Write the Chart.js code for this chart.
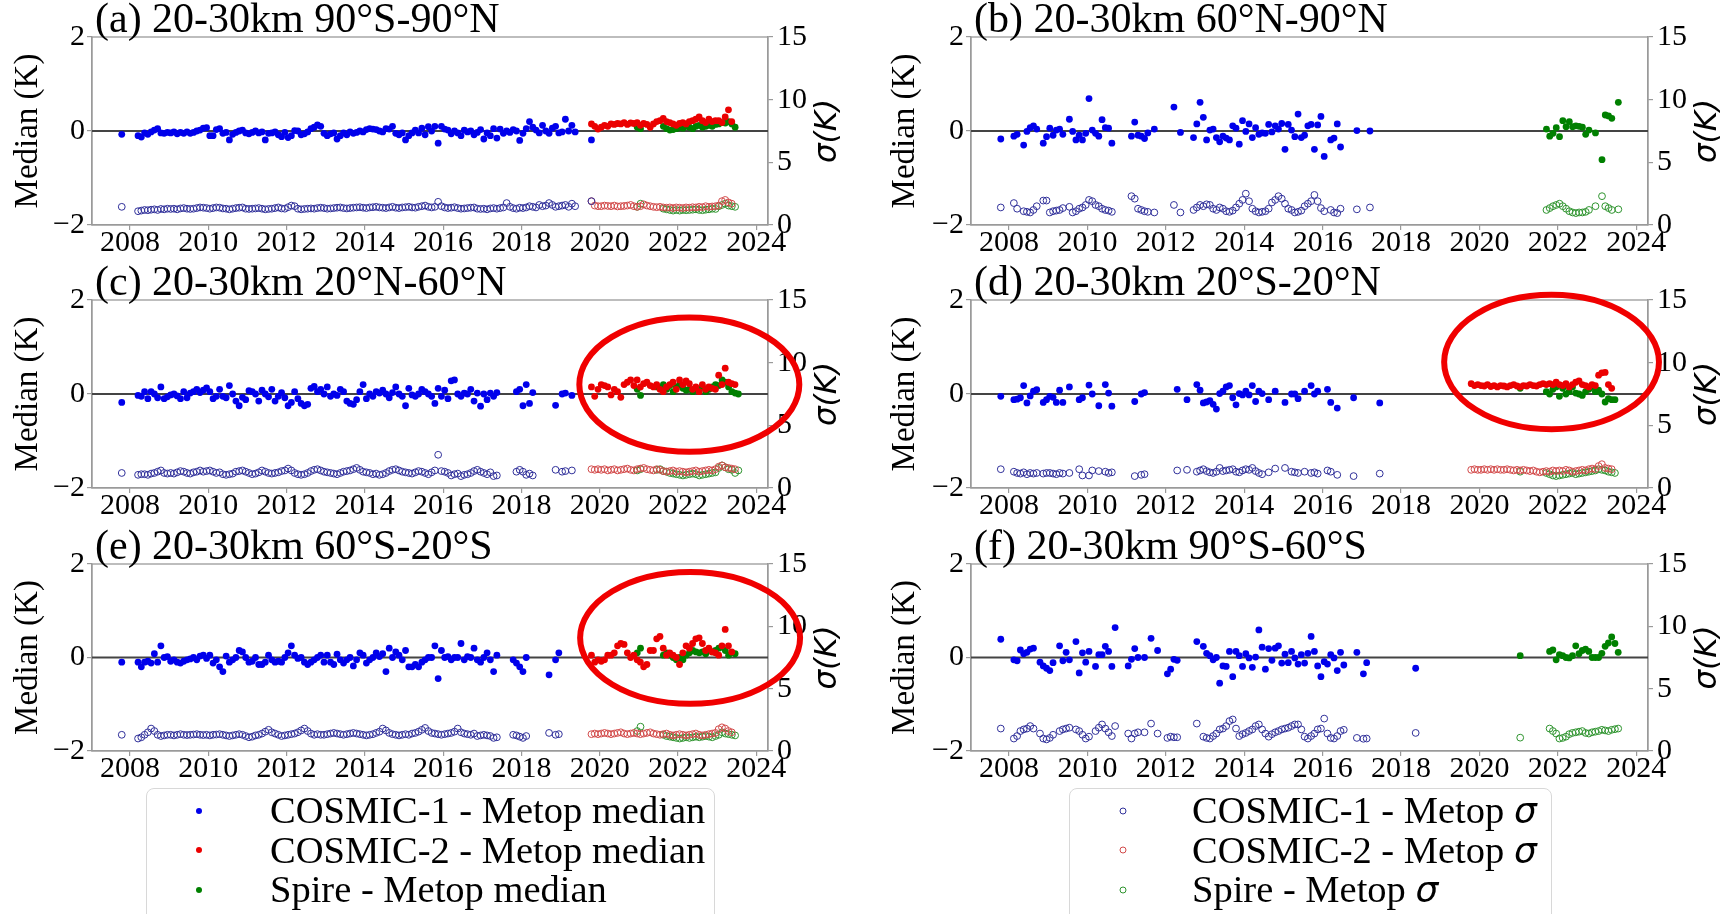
<!DOCTYPE html>
<html>
<head>
<meta charset="utf-8">
<script src="https://cdn.jsdelivr.net/npm/chart.js@4.4.0/dist/chart.umd.min.js"></script>
<style>
body { margin: 0; background: #fff; width: 1730px; height: 914px; overflow: hidden; position: relative; font-family: 'Liberation Serif', serif; }
canvas { position: absolute; }
.legend { position: absolute; top: 788px; height: 200px; box-sizing: border-box; border: 1.5px solid #d8d8d8; border-radius: 8px; padding-top: 2px; background: #fff; }
.row { position: relative; height: 39.5px; line-height: 39.5px; font-size: 38.5px; color: #000; white-space: nowrap; }
.mark { position: absolute; top: 50%; border-radius: 50%; transform: translate(-50%, -50%); box-sizing: border-box; }
.txt { position: absolute; top: 0; }
.sig { font-family: 'DejaVu Sans', sans-serif; font-style: italic; font-size: 36px; }
</style>
</head>
<body>
<script>
// tick labels and titles
var yearTicks = [2008, 2010, 2012, 2014, 2016, 2018, 2020, 2022, 2024]
var panelTitles = ['(a) 20-30km 90°S-90°N', '(b) 20-30km 60°N-90°N', '(c) 20-30km 20°N-60°N',
    '(d) 20-30km 20°S-20°N', '(e) 20-30km 60°S-20°S', '(f) 20-30km 90°S-60°S']
var medianNames = ['COSMIC-1 - Metop median', 'COSMIC-2 - Metop median', 'Spire - Metop median']
var sigmaNames = ['COSMIC-1 - Metop ', 'COSMIC-2 - Metop ', 'Spire - Metop ']

// monthly series: first month of each mission (decimal year, mid-month)
var c1Start = 2007.79
var c2Start = 2019.79
var spireStart = [2020.96, 2021.71, 2020.96, 2021.04, 2020.96, 2021.04]

// (a) 90S-90N
var aC1Med = [-0.07, null, null,
    null, null, -0.1, -0.13, -0.04, -0.07, -0.02, 0.02, 0.05, -0.04, -0.05, -0.03,
    -0.04, -0.02, -0.06, -0.03, -0.05, -0.02, -0.05, -0.03, 0.0, 0.02, 0.06, 0.07,
    -0.1, -0.1, 0.03, 0.05, -0.05, -0.03, -0.19, -0.07, -0.03, 0.0, 0.02, -0.04,
    -0.06, -0.03, 0.0, -0.04, -0.02, -0.19, -0.05, -0.04, -0.02, -0.08, -0.12, -0.03,
    -0.14, -0.1, 0.01, 0.0, -0.08, -0.06, -0.02, 0.05, 0.08, 0.13, 0.1, -0.05,
    -0.1, -0.06, -0.04, -0.17, -0.1, -0.04, -0.08, -0.02, -0.05, -0.03, 0.0, -0.02,
    0.03, 0.05, 0.04, 0.03, 0.0, -0.02, 0.05, 0.04, 0.1, -0.05, -0.08, -0.04,
    -0.19, -0.1, -0.04, 0.02, -0.04, 0.06, -0.08, 0.09, 0.0, 0.1, -0.26, 0.1,
    0.04, 0.02, -0.06, 0.0, -0.04, -0.1, 0.02, -0.02, 0.0, -0.08, -0.03, 0.03,
    -0.17, -0.04, -0.1, 0.05, -0.15, 0.04, -0.05, 0.0, -0.03, 0.03, 0.0, -0.2,
    -0.05, 0.05, 0.2, 0.08, 0.02, -0.04, 0.12, 0.0, -0.05, 0.06, 0.1, -0.04,
    -0.02, 0.25, 0.0, 0.12, -0.02, null, null, null, null, -0.19]
var aC1Sig = [1.45, null, null,
    null, null, 1.1, 1.15, 1.2, 1.18, 1.22, 1.25, 1.2, 1.28, 1.25, 1.3,
    1.28, 1.3, 1.25, 1.32, 1.35, 1.3, 1.28, 1.3, 1.35, 1.4, 1.38, 1.35,
    1.3, 1.35, 1.4, 1.38, 1.32, 1.3, 1.25, 1.3, 1.35, 1.38, 1.4, 1.3,
    1.28, 1.3, 1.32, 1.35, 1.3, 1.25, 1.28, 1.3, 1.35, 1.4, 1.32, 1.3,
    1.42, 1.55, 1.5, 1.3, 1.25, 1.28, 1.3, 1.32, 1.3, 1.35, 1.38, 1.35,
    1.3, 1.32, 1.35, 1.38, 1.4, 1.35, 1.32, 1.35, 1.38, 1.4, 1.42, 1.38,
    1.35, 1.4, 1.42, 1.45, 1.4, 1.38, 1.35, 1.4, 1.45, 1.38, 1.35, 1.4,
    1.42, 1.45, 1.4, 1.38, 1.45, 1.5, 1.55, 1.45, 1.4, 1.45, 1.85, 1.5,
    1.4, 1.35, 1.38, 1.42, 1.35, 1.3, 1.32, 1.35, 1.38, 1.4, 1.3, 1.28,
    1.3, 1.25, 1.32, 1.35, 1.3, 1.35, 1.4, 1.75, 1.45, 1.35, 1.3, 1.38,
    1.35, 1.4, 1.5, 1.45, 1.4, 1.6, 1.5, 1.55, 1.75, 1.6, 1.45, 1.5,
    1.55, 1.6, 1.45, 1.7, 1.5, null, null, null, null, 1.9]
var aC2Med = [0.15, 0.1, 0.04,
    0.08, 0.12, 0.1, 0.15, 0.14, 0.16, 0.15, 0.18, 0.14, 0.17, 0.16, 0.18,
    0.12, 0.16, 0.14, 0.08, 0.15, 0.2, 0.22, 0.27, 0.2, 0.18, 0.15, 0.12,
    0.16, 0.18, 0.15, 0.2, 0.22, 0.25, 0.3, 0.22, 0.18, 0.25, 0.2, 0.22,
    0.22, 0.18, 0.3, 0.45, 0.2]
var aC2Sig = [1.9, 1.55, 1.5,
    1.5, 1.55, 1.52, 1.5, 1.55, 1.48, 1.5, 1.52, 1.55, 1.6, 1.5, 1.45,
    1.5, 1.65, 1.55, 1.5, 1.45, 1.42, 1.45, 1.4, 1.38, 1.4, 1.35, 1.4,
    1.38, 1.35, 1.4, 1.38, 1.42, 1.4, 1.45, 1.42, 1.5, 1.45, 1.48, 1.5,
    1.55, 1.9, 2.0, 1.8, 1.7]
var aSpMed = [0.08, 0.05, null, null, null, null, null, null, 0.1, 0.05, 0.02, 0.03, 0.05,
    0.08, 0.06, 0.1, 0.08, 0.05, 0.1, 0.12, 0.08, 0.1, 0.12, 0.1, 0.14,
    0.15, 0.18, 0.17, 0.2, 0.15, 0.08]
var aSpSig = [1.45, 1.7, null, null, null, null, null, null, 1.3, 1.25, 1.2, 1.15, 1.2,
    1.15, 1.2, 1.18, 1.2, 1.22, 1.25, 1.2, 1.18, 1.22, 1.25, 1.3, 1.28,
    1.5, 1.6, 1.7, 1.55, 1.5, 1.45]

// (b) 60N-90N
var bC1Med = [-0.17, null, null,
    null, -0.11, -0.07, null, -0.3, -0.01, 0.07, 0.11, 0.04, null, -0.26, -0.12,
    0.06, -0.09, 0.02, 0.04, -0.07, null, 0.25, -0.01, -0.19, -0.09, -0.19, -0.05,
    0.69, 0.02, -0.05, -0.11, 0.24, 0.07, 0.06, -0.26, null, null, null, null,
    null, -0.11, 0.19, -0.09, -0.11, -0.16, -0.04, null, 0.04, null, null, null,
    null, null, 0.51, null, -0.03, null, null, null, -0.14, 0.15, 0.61, 0.29,
    -0.19, 0.02, 0.04, -0.14, -0.23, -0.11, -0.15, -0.19, 0.11, 0.06, -0.28, 0.22,
    -0.01, 0.15, -0.14, 0.07, -0.07, -0.04, -0.05, 0.14, -0.02, 0.11, 0.04, 0.16,
    -0.39, 0.14, 0.02, -0.12, 0.36, -0.14, -0.09, 0.11, 0.14, -0.39, 0.13, 0.31,
    -0.54, null, -0.19, -0.15, 0.15, -0.34, null, null, null, null, 0.01, null,
    null, null, 0.0]
var bC1Sig = [1.4, null, null,
    null, 1.75, 1.3, null, 1.1, 1.05, 1.0, 1.2, 1.5, null, 1.95, 1.95,
    1.0, 1.1, 1.15, 1.2, 1.35, null, 1.45, 1.0, 1.1, 1.3, 1.4, 1.6,
    2.0, 1.9, 1.6, 1.5, 1.3, 1.2, 1.15, 1.05, null, null, null, null,
    null, 2.3, 2.1, 1.3, 1.2, 1.1, 1.05, null, 1.0, null, null, null,
    null, null, 1.6, null, 1.0, null, null, null, 1.2, 1.4, 1.6, 1.5,
    1.65, 1.6, 1.3, 1.2, 1.4, 1.3, 1.1, 1.05, 1.15, 1.4, 1.7, 2.0,
    2.5, 1.9, 1.3, 1.1, 1.0, 1.05, 1.1, 1.3, 1.8, 2.0, 2.3, 2.1,
    1.7, 1.3, 1.2, 1.0, 1.05, 1.15, 1.5, 1.7, 1.9, 2.4, 1.9, 1.35,
    1.1, null, 1.2, 1.0, 0.95, 1.3, null, null, null, null, 1.25, null,
    null, null, 1.4]
var bC2Med = []
var bC2Sig = []
var bSpMed = [0.04, -0.11, -0.05, 0.07, -0.12, 0.22, 0.09, 0.2, 0.09, 0.11, 0.1, 0.08,
    -0.07, 0.02, null, -0.04, null, -0.61, 0.34, 0.32, 0.27, null, 0.61]
var bSpSig = [1.2, 1.35, 1.5, 1.6, 1.7, 1.5, 1.3, 1.1, 1.0, 0.95, 1.0, 1.0,
    1.05, 1.2, null, 1.5, null, 2.3, 1.5, 1.35, 1.2, null, 1.25]

// (c) 20N-60N
var cC1Med = [-0.18, null, null,
    null, null, -0.03, -0.05, 0.05, -0.1, 0.05, 0.0, -0.08, 0.15, -0.1, -0.06,
    -0.02, 0.0, -0.04, -0.1, 0.05, -0.08, 0.02, 0.05, 0.1, 0.03, 0.08, 0.13,
    0.05, -0.1, -0.05, 0.1, -0.05, -0.08, 0.18, 0.0, -0.15, -0.25, -0.07, -0.12,
    0.07, 0.05, 0.0, -0.15, 0.08, 0.0, -0.06, 0.1, -0.15, -0.05, 0.03, -0.08,
    -0.25, -0.18, 0.05, -0.1, -0.2, -0.25, -0.22, 0.12, 0.16, 0.05, 0.1, 0.0,
    0.15, -0.05, 0.0, -0.03, 0.1, 0.05, -0.15, -0.2, -0.22, -0.12, 0.05, 0.2,
    -0.1, 0.0, -0.05, 0.05, 0.02, 0.08, 0.0, -0.08, 0.03, 0.15, 0.0, -0.05,
    -0.25, 0.12, -0.02, -0.05, 0.0, 0.1, 0.05, 0.0, -0.05, -0.2, 0.12, -0.05,
    0.08, -0.1, 0.28, 0.3, 0.0, -0.05, 0.02, 0.0, 0.1, -0.15, 0.02, -0.26,
    0.0, -0.12, 0.02, -0.05, 0.03, null, null, null, null, null, 0.05, 0.1,
    -0.25, 0.2, -0.2, 0.03, null, null, null, null, null, null, -0.24, null,
    0.0, 0.02, null, -0.03]
var cC1Sig = [1.2, null, null,
    null, null, 1.05, 1.1, 1.1, 1.05, 1.15, 1.2, 1.3, 1.4, 1.2, 1.15,
    1.2, 1.15, 1.25, 1.35, 1.3, 1.2, 1.15, 1.25, 1.3, 1.4, 1.3, 1.35,
    1.4, 1.3, 1.2, 1.25, 1.1, 1.05, 1.1, 1.15, 1.3, 1.35, 1.4, 1.3,
    1.2, 1.1, 1.15, 1.25, 1.4, 1.3, 1.2, 1.15, 1.2, 1.25, 1.35, 1.4,
    1.55, 1.4, 1.2, 1.1, 1.05, 1.1, 1.2, 1.35, 1.45, 1.5, 1.4, 1.3,
    1.25, 1.2, 1.15, 1.1, 1.2, 1.3, 1.35, 1.4, 1.5, 1.6, 1.45, 1.3,
    1.25, 1.2, 1.1, 1.15, 1.05, 1.1, 1.2, 1.35, 1.45, 1.5, 1.4, 1.3,
    1.25, 1.2, 1.15, 1.25, 1.35, 1.3, 1.2, 1.1, 1.25, 1.4, 2.65, 1.35,
    1.3, 1.2, 1.0, 1.1, 1.15, 0.95, 1.05, 1.1, 1.2, 1.35, 1.45, 1.3,
    1.2, 1.1, 1.25, 0.95, 1.0, null, null, null, null, null, 1.3, 1.45,
    1.3, 1.05, 1.15, 1.0, null, null, null, null, null, null, 1.45, null,
    1.3, 1.35, null, 1.4]
var cC2Med = [0.15, -0.05, 0.1,
    0.2, 0.18, 0.15, -0.02, 0.1, 0.05, -0.07, 0.2, 0.25, 0.3, 0.18, 0.3,
    0.15, 0.22, 0.25, 0.18, 0.15, 0.2, 0.1, 0.05, 0.15, 0.2, 0.25, 0.1,
    0.3, 0.2, 0.28, 0.22, 0.1, 0.15, 0.05, 0.2, 0.1, 0.15, 0.12, 0.1,
    0.4, 0.2, 0.55, 0.25, 0.22, 0.2]
var cC2Sig = [1.5, 1.45, 1.5,
    1.45, 1.5, 1.4, 1.45, 1.5, 1.4, 1.45, 1.5, 1.55, 1.45, 1.4, 1.5,
    1.55, 1.6, 1.5, 1.45, 1.4, 1.5, 1.45, 1.35, 1.3, 1.35, 1.4, 1.3,
    1.35, 1.3, 1.25, 1.3, 1.35, 1.4, 1.3, 1.35, 1.4, 1.45, 1.4, 1.5,
    1.7, 1.8, 1.65, 1.6, 1.55, 1.5]
var cSpMed = [0.1, -0.03, null, null, null, null,
    0.15, 0.12, 0.2, 0.1, 0.18, 0.05, 0.15,
    0.2, 0.12, 0.08, 0.1, 0.05, 0.12, 0.1, 0.15, 0.05, 0.1, 0.15, 0.2,
    0.18, 0.3, 0.25, 0.15, 0.05, 0.02, 0.0]
var cSpSig = [1.4, 1.5, null, null, null, null,
    1.45, 1.5, 1.35, 1.3, 1.2, 1.15, 1.1,
    1.05, 1.0, 1.05, 1.1, 1.15, 1.1, 1.0, 1.05, 1.1, 1.15, 1.2, 1.25,
    1.6, 1.8, 1.65, 1.5, 1.45, 1.2, 1.4]

// (d) 20S-20N
var dC1Med = [-0.05, null, null,
    null, -0.12, -0.11, -0.08, 0.18, -0.19, -0.04, 0.06, 0.09, null, -0.18, -0.12,
    -0.05, -0.07, -0.18, 0.08, -0.18, null, 0.15, null, null, -0.12, -0.08, null,
    0.19, 0.0, null, -0.25, null, 0.2, 0.02, -0.26, null, null, null, null,
    null, null, -0.16, null, 0.0, 0.03, null, null, null, null, null, null,
    null, null, null, 0.1, null, null, -0.12, null, null, 0.2, 0.08, -0.19,
    -0.17, -0.14, -0.22, -0.32, 0.01, 0.06, 0.15, 0.18, -0.08, -0.23, 0.01, -0.02,
    0.06, -0.02, 0.18, -0.16, 0.06, 0.01, null, -0.12, null, 0.06, null, null,
    -0.18, null, 0.0, 0.0, -0.1, null, 0.06, null, 0.18, 0.0, 0.06, null,
    null, 0.1, -0.18, null, -0.3, null, null, null, null, -0.08, null, null,
    null, null, null, null, null, -0.19]
var dC1Sig = [1.5, null, null,
    null, 1.3, 1.2, 1.15, 1.25, 1.1, 1.2, 1.15, 1.2, null, 1.15, 1.2,
    1.2, 1.15, 1.1, 1.2, 1.15, null, 1.2, null, null, 1.5, 1.0, null,
    1.0, 1.4, null, 1.35, null, 1.3, 1.2, 1.25, null, null, null, null,
    null, null, 0.95, null, 1.05, 1.1, null, null, null, null, null, null,
    null, null, null, 1.4, null, null, 1.45, null, null, 1.3, 1.4, 1.5,
    1.35, 1.25, 1.2, 1.3, 1.6, 1.35, 1.4, 1.45, 1.5, 1.3, 1.25, 1.4,
    1.5, 1.45, 1.6, 1.35, 1.2, 1.1, null, 1.25, null, 1.55, null, null,
    1.6, null, 1.3, 1.25, 1.2, null, 1.3, null, 1.2, 1.25, 1.15, null,
    null, 1.4, 1.3, null, 1.05, null, null, null, null, 0.95, null, null,
    null, null, null, null, null, 1.15]
var dC2Med = [0.22, 0.18, 0.2,
    0.18, 0.17, 0.2, 0.16, 0.18, 0.15, 0.18, 0.17, 0.15, 0.18, 0.2, 0.17,
    0.15, 0.18, 0.17, 0.2, 0.18, 0.17, 0.2, 0.22, 0.2, 0.22, 0.2, 0.25,
    0.2, 0.18, 0.22, 0.15, 0.2, 0.25, 0.28, 0.2, 0.18, 0.15, 0.2, 0.18,
    0.4, 0.45, 0.46, 0.2, 0.12]
var dC2Sig = [1.45, 1.5, 1.45,
    1.45, 1.5, 1.45, 1.5, 1.45, 1.5, 1.45, 1.45, 1.5, 1.45, 1.4, 1.45,
    1.4, 1.45, 1.4, 1.35, 1.4, 1.3, 1.25, 1.3, 1.35, 1.3, 1.4, 1.35,
    1.4, 1.35, 1.45, 1.4, 1.3, 1.35, 1.4, 1.45, 1.4, 1.5, 1.55, 1.5,
    1.75, 1.9, 1.6, 1.55, 1.5]
var dSpMed = [0.12, null, null, null, null, null, null, null, 0.05, 0.0, 0.1, 0.15,
    -0.05, 0.12, 0.0, 0.05, 0.15, 0.02, 0.0, -0.03, 0.05, 0.1, 0.15, 0.05,
    0.08, 0.0, -0.17, -0.1, -0.12, -0.12]
var dSpSig = [1.3, null, null, null, null, null, null, null, 1.2, 1.1, 1.0, 0.95,
    1.0, 1.05, 1.1, 1.15, 1.2, 1.1, 1.15, 1.2, 1.25, 1.3, 1.35, 1.4,
    1.5, 1.45, 1.4, 1.3, 1.25, 1.2]

// (e) 60S-20S
var eC1Med = [-0.1, null, null,
    null, null, -0.1, -0.2, -0.1, -0.08, -0.12, 0.08, -0.1, 0.25, 0.0, 0.02,
    -0.08, -0.05, -0.1, -0.12, -0.08, -0.05, -0.03, 0.0, -0.05, 0.03, 0.05, -0.02,
    0.05, -0.12, -0.05, -0.2, -0.3, 0.03, -0.1, -0.05, 0.0, 0.15, 0.12, 0.0,
    -0.1, -0.08, 0.0, -0.15, -0.15, -0.1, 0.05, -0.05, -0.1, -0.08, -0.1, 0.0,
    0.1, 0.25, 0.05, -0.02, 0.0, -0.1, -0.15, -0.1, -0.05, 0.0, 0.05, -0.1,
    0.05, -0.1, -0.15, 0.07, -0.05, -0.12, -0.05, 0.0, -0.18, -0.05, 0.1, 0.05,
    -0.12, -0.05, 0.0, 0.1, 0.02, 0.08, -0.3, 0.2, 0.0, 0.12, 0.05, -0.05,
    0.15, -0.2, -0.2, -0.15, -0.2, -0.1, -0.05, 0.0, 0.0, 0.25, -0.45, 0.15,
    0.0, 0.02, -0.05, 0.0, 0.0, 0.3, -0.05, 0.02, 0.0, 0.2, -0.05, -0.1,
    0.0, 0.1, -0.05, -0.3, 0.05, null, null, null, null, -0.05, -0.12, -0.2,
    -0.3, 0.0, null, null, null, null, null, null, -0.37, null, -0.05, 0.1]
var eC1Sig = [1.3, null, null,
    null, null, 1.0, 1.1, 1.3, 1.5, 1.8, 1.6, 1.3, 1.2, 1.25, 1.3,
    1.3, 1.25, 1.3, 1.35, 1.3, 1.28, 1.3, 1.32, 1.35, 1.3, 1.28, 1.3,
    1.25, 1.3, 1.32, 1.35, 1.3, 1.25, 1.2, 1.25, 1.3, 1.35, 1.3, 1.2,
    1.1, 1.15, 1.25, 1.3, 1.4, 1.55, 1.7, 1.5, 1.4, 1.3, 1.2, 1.25,
    1.3, 1.35, 1.4, 1.5, 1.65, 1.8, 1.6, 1.4, 1.3, 1.35, 1.3, 1.3,
    1.35, 1.4, 1.45, 1.4, 1.35, 1.3, 1.35, 1.4, 1.45, 1.4, 1.35, 1.3,
    1.25, 1.3, 1.35, 1.45, 1.55, 1.8, 1.65, 1.45, 1.35, 1.3, 1.25, 1.3,
    1.35, 1.3, 1.4, 1.45, 1.55, 1.7, 1.85, 1.6, 1.45, 1.4, 1.35, 1.3,
    1.35, 1.4, 1.45, 1.55, 1.8, 1.5, 1.4, 1.35, 1.3, 1.4, 1.2, 1.25,
    1.3, 1.25, 1.2, 1.05, 1.1, null, null, null, null, 1.3, 1.25, 1.15,
    1.05, 1.2, null, null, null, null, null, null, 1.45, null, 1.3, 1.35]
var eC2Med = [0.05, -0.1, -0.05,
    -0.08, -0.05, 0.05, 0.05, 0.1, 0.25, 0.3, 0.28, 0.1, 0.0, 0.05, -0.05,
    -0.1, -0.2, -0.15, 0.15, 0.15, 0.4, 0.45, 0.2, 0.05, 0.1, 0.05, 0.0,
    -0.15, 0.1, 0.25, 0.2, 0.3, 0.4, 0.42, 0.3, 0.15, 0.2, 0.12, 0.1,
    0.05, 0.25, 0.6, 0.25, 0.12]
var eC2Sig = [1.35, 1.4, 1.35,
    1.4, 1.45, 1.4, 1.35, 1.4, 1.45, 1.5, 1.4, 1.35, 1.4, 1.45, 1.4,
    1.35, 1.4, 1.45, 1.5, 1.4, 1.35, 1.3, 1.35, 1.4, 1.3, 1.25, 1.3,
    1.35, 1.3, 1.25, 1.3, 1.35, 1.4, 1.3, 1.25, 1.3, 1.35, 1.4, 1.45,
    1.75, 1.9, 1.8, 1.6, 1.5]
var eSpMed = [0.1, 0.2, null, null, null, null, null, null, 0.05, 0.1, 0.05, 0.0, -0.05,
    0.0, -0.05, 0.05, 0.1, 0.15, 0.12, 0.1, 0.12, 0.08, 0.15, 0.12, 0.15,
    0.2, 0.22, 0.15, 0.05, 0.1, 0.08]
var eSpSig = [1.6, 1.95, null, null, null, null, null, null, 1.3, 1.2, 1.15, 1.1, 1.05,
    1.0, 1.05, 1.1, 1.05, 1.1, 1.15, 1.1, 1.15, 1.2, 1.15, 1.1, 1.2,
    1.3, 1.5, 1.4, 1.35, 1.3, 1.25]

// (f) 90S-60S
var fC1Med = [0.39, null, null,
    null, -0.05, -0.07, 0.16, 0.08, 0.11, 0.18, 0.2, null, -0.1, -0.18, -0.23,
    -0.28, -0.11, null, 0.25, -0.07, 0.11, -0.05, null, 0.34, -0.33, 0.1, -0.1,
    0.13, null, -0.19, 0.06, 0.06, 0.24, 0.13, -0.19, 0.64, null, null, null,
    -0.18, -0.04, 0.19, 0.0, null, 0.0, null, 0.41, null, 0.15, null, null,
    -0.35, -0.25, -0.04, -0.06, null, null, null, null, null, 0.34, null, 0.24,
    0.09, 0.04, -0.05, 0.0, -0.55, -0.18, -0.19, 0.13, -0.41, 0.13, 0.04, -0.19,
    0.08, -0.01, -0.21, 0.01, 0.59, 0.22, -0.25, 0.19, -0.06, 0.2, 0.25, -0.12,
    0.07, -0.11, 0.13, -0.01, -0.14, 0.06, -0.12, 0.09, 0.45, 0.13, -0.18, -0.41,
    -0.09, -0.14, 0.06, -0.01, -0.28, 0.11, -0.16, null, null, null, 0.11, null,
    -0.35, -0.11, null, null, null, null, null, null, null, null, null, null,
    null, null, null, null, -0.23]
var fC1Sig = [1.8, null, null,
    null, 1.0, 1.2, 1.6, 1.73, 1.8, 2.0, 1.8, null, 1.4, 1.0, 0.93,
    1.05, 1.3, null, 1.6, 1.73, 1.8, 1.87, null, 1.73, 1.6, 1.3, 1.0,
    1.15, null, 1.6, 1.87, 2.13, 1.8, 1.5, 1.2, 2.0, null, null, null,
    1.4, 1.0, 1.4, 1.5, null, 1.5, null, 2.2, null, 1.4, null, null,
    1.05, 1.15, 1.1, 1.1, null, null, null, null, null, 2.2, null, 1.15,
    1.05, 1.0, 1.2, 1.4, 1.73, 1.8, 2.0, 2.4, 2.53, 1.8, 1.2, 1.35,
    1.45, 1.6, 1.73, 2.0, 2.13, 1.73, 1.4, 1.15, 1.35, 1.5, 1.6, 1.73,
    1.8, 1.87, 2.0, 2.13, 2.13, 1.73, 1.15, 1.0, 1.2, 1.4, 1.73, 1.8,
    2.6, 1.4, 1.05, 1.0, 1.2, 1.6, 1.7, null, null, null, 1.05, null,
    0.98, 1.0, null, null, null, null, null, null, null, null, null, null,
    null, null, null, null, 1.45]
var fC2Med = []
var fC2Sig = []
var fSpMed = [0.04, null, null, null, null, null, null, null, null, 0.13, 0.16, -0.05,
    0.06, 0.04, 0.0, -0.01, 0.04, 0.25, 0.08, 0.15, 0.18, 0.13, 0.0, 0.0,
    0.0, 0.09, 0.24, 0.31, 0.44, 0.3, 0.11]
var fSpSig = [1.07, null, null, null, null, null, null, null, null, 1.8, 1.6, 1.4,
    1.0, 1.05, 1.15, 1.35, 1.45, 1.5, 1.55, 1.6, 1.45, 1.4, 1.5, 1.55,
    1.6, 1.7, 1.65, 1.6, 1.7, 1.75, 1.8]

var panelData = [
    [aC1Med, aC1Sig, aC2Med, aC2Sig, aSpMed, aSpSig],
    [bC1Med, bC1Sig, bC2Med, bC2Sig, bSpMed, bSpSig],
    [cC1Med, cC1Sig, cC2Med, cC2Sig, cSpMed, cSpSig],
    [dC1Med, dC1Sig, dC2Med, dC2Sig, dSpMed, dSpSig],
    [eC1Med, eC1Sig, eC2Med, eC2Sig, eSpMed, eSpSig],
    [fC1Med, fC1Sig, fC2Med, fC2Sig, fSpMed, fSpSig]
]

// red rings drawn on (c), (d), (e), in data units of each panel
var ringMarks = [
    { panel: 2, x: 2022.29, y: 0.2, rx: 2.81, ry: 1.43 },
    { panel: 3, x: 2021.84, y: 0.68, rx: 2.74, ry: 1.43 },
    { panel: 4, x: 2022.31, y: 0.42, rx: 2.81, ry: 1.41 }
]

// page layout
var colLeft = [0, 865]
var colWidth = 865
var plotTop = [37, 300, 564]
var plotBottom = [225, 488, 751]
var leftAxisW = [92, 106]
var rightAxisW = [97, 82]
var medTitleX = [28, 40]
var sigTitleX = [828, 843]

var medColors = ['rgb(0,0,235)', 'rgb(235,0,0)', 'rgb(0,128,0)']
var sigColors = ['#30309a', '#d24a4a', '#2f942f']
var serif = "'Liberation Serif', 'Times New Roman', serif"

function toPoints(start, vals) {
    var pts = []
    vals.forEach(function (v, i) {
        if (v !== null) pts.push({ x: start + i / 12, y: v })
    })
    return pts
}

var panelDecor = {
    id: 'panelDecor',
    beforeDatasetsDraw: function (chart) {
        var a = chart.chartArea
        var ctx = chart.ctx
        var y0 = chart.scales.y.getPixelForValue(0)
        ctx.save()
        ctx.strokeStyle = '#9a9a9a'
        ctx.lineWidth = 1.3
        ctx.strokeRect(a.left, a.top, a.right - a.left, a.bottom - a.top)
        ctx.strokeStyle = '#444'
        ctx.lineWidth = 1.8
        ctx.beginPath()
        ctx.moveTo(a.left, y0)
        ctx.lineTo(a.right, y0)
        ctx.stroke()
        ctx.restore()
    },
    afterDraw: function (chart, args, opts) {
        var a = chart.chartArea
        var ctx = chart.ctx
        var col = opts.index % 2
        var yMid = (a.top + a.bottom) / 2
        ctx.save()
        ctx.fillStyle = '#000'
        // panel title
        ctx.font = '42px ' + serif
        ctx.textAlign = 'left'
        ctx.textBaseline = 'alphabetic'
        ctx.fillText(panelTitles[opts.index], a.left + 3, a.top - 5)
        // left axis title
        ctx.save()
        ctx.translate(medTitleX[col], yMid)
        ctx.rotate(-Math.PI / 2)
        ctx.font = '33px ' + serif
        ctx.textAlign = 'center'
        ctx.textBaseline = 'middle'
        ctx.fillText('Median (K)', 0, 0)
        ctx.restore()
        // right axis title
        ctx.save()
        ctx.translate(sigTitleX[col], yMid)
        ctx.rotate(-Math.PI / 2)
        ctx.font = "italic 31px 'DejaVu Sans', sans-serif"
        ctx.textAlign = 'center'
        ctx.textBaseline = 'middle'
        ctx.fillText('\u03c3(K)', 0, 0)
        ctx.restore()
        // red rings
        ringMarks.forEach(function (m) {
            if (m.panel !== opts.index) return
            var xs = chart.scales.x, ys = chart.scales.y
            var cx = xs.getPixelForValue(m.x), cy = ys.getPixelForValue(m.y)
            var rx = Math.abs(xs.getPixelForValue(m.x + m.rx) - cx)
            var ry = Math.abs(ys.getPixelForValue(m.y + m.ry) - cy)
            ctx.strokeStyle = 'rgb(240,0,0)'
            ctx.lineWidth = 6
            ctx.beginPath()
            ctx.ellipse(cx, cy, rx, ry, 0, 0, Math.PI * 2)
            ctx.stroke()
        })
        ctx.restore()
    }
}

function makePanel(i) {
    var col = i % 2
    var row = Math.floor(i / 2)
    var canvas = document.createElement('canvas')
    var top = plotTop[row] - 37
    var height = plotBottom[row] - plotTop[row] + 37 + 38
    canvas.width = colWidth
    canvas.height = height
    canvas.style.left = colLeft[col] + 'px'
    canvas.style.top = top + 'px'
    document.body.appendChild(canvas)

    var d = panelData[i]
    var starts = [c1Start, c2Start, spireStart[i]]
    var datasets = []
    for (var k = 0; k < 3; k++) {
        datasets.push({
            label: sigmaNames[k] + '\u03c3',
            data: toPoints(starts[k], d[k * 2 + 1]),
            yAxisID: 'y1',
            showLine: false,
            pointRadius: 3.4,
            pointBorderWidth: 1,
            pointBackgroundColor: 'rgba(0,0,0,0)',
            pointBorderColor: sigColors[k]
        })
    }
    for (var k = 0; k < 3; k++) {
        datasets.push({
            label: medianNames[k],
            data: toPoints(starts[k], d[k * 2]),
            yAxisID: 'y',
            showLine: false,
            pointRadius: 3.4,
            pointBorderWidth: 0,
            pointBackgroundColor: medColors[k],
            pointBorderColor: medColors[k]
        })
    }

    var tickFont = { family: serif, size: 30, lineHeight: 0.9 }
    new Chart(canvas.getContext('2d'), {
        type: 'scatter',
        data: { datasets: datasets },
        plugins: [panelDecor],
        options: {
            responsive: false,
            animation: false,
            devicePixelRatio: 1,
            layout: { padding: { top: 37, left: 0, right: 0, bottom: 0 } },
            plugins: {
                legend: { display: false },
                tooltip: { enabled: false },
                panelDecor: { index: i }
            },
            scales: {
                x: {
                    type: 'linear',
                    min: 2007.03,
                    max: 2024.3,
                    afterBuildTicks: function (scale) {
                        scale.ticks = yearTicks.map(function (v) { return { value: v } })
                    },
                    afterFit: function (scale) { scale.height = 38 },
                    ticks: { font: tickFont, color: '#000', padding: 0, maxRotation: 0, autoSkip: false,
                        callback: function (v) { return String(v) } },
                    grid: { drawOnChartArea: false, tickLength: 5, color: '#9a9a9a', lineWidth: 1.2 },
                    border: { color: '#9a9a9a', width: 1.3 }
                },
                y: {
                    position: 'left',
                    min: -2,
                    max: 2,
                    afterFit: function (scale) { scale.width = leftAxisW[col] },
                    ticks: { stepSize: 2, font: tickFont, color: '#000', padding: 2,
                        callback: function (v) { return v < 0 ? '\u2212' + Math.abs(v) : String(v) } },
                    grid: { drawOnChartArea: false, tickLength: 5, color: '#9a9a9a', lineWidth: 1.2 },
                    border: { color: '#9a9a9a', width: 1.3 }
                },
                y1: {
                    position: 'right',
                    min: 0,
                    max: 15,
                    afterFit: function (scale) { scale.width = rightAxisW[col] },
                    ticks: { stepSize: 5, font: tickFont, color: '#000', padding: 4 },
                    grid: { drawOnChartArea: false, tickLength: 5, color: '#9a9a9a', lineWidth: 1.2 },
                    border: { color: '#9a9a9a', width: 1.3 }
                }
            }
        }
    })
}

for (var i = 0; i < 6; i++) makePanel(i)

// legends below the panels
function makeLegend(left, width, markX, textX, hollow) {
    var box = document.createElement('div')
    box.className = 'legend'
    box.style.left = left + 'px'
    box.style.width = width + 'px'
    for (var k = 0; k < 3; k++) {
        var row = document.createElement('div')
        row.className = 'row'
        var mark = document.createElement('span')
        mark.className = 'mark'
        mark.style.left = markX + 'px'
        if (hollow) {
            mark.style.width = '7px'
            mark.style.height = '7px'
            mark.style.border = '1px solid ' + sigColors[k]
        } else {
            mark.style.width = '6px'
            mark.style.height = '6px'
            mark.style.background = medColors[k]
        }
        row.appendChild(mark)
        var txt = document.createElement('span')
        txt.className = 'txt'
        txt.style.left = textX + 'px'
        if (hollow) {
            txt.textContent = sigmaNames[k]
            var s = document.createElement('span')
            s.className = 'sig'
            s.textContent = '\u03c3'
            txt.appendChild(s)
        } else {
            txt.textContent = medianNames[k]
        }
        row.appendChild(txt)
        box.appendChild(row)
    }
    document.body.appendChild(box)
}

makeLegend(146, 569, 52, 123, false)
makeLegend(1069, 483, 53, 122, true)
</script>
</body>
</html>
